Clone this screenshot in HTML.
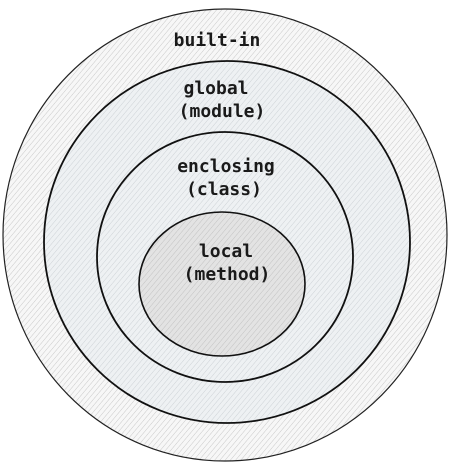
<!DOCTYPE html>
<html><head><style>
html,body{margin:0;padding:0;background:#fff;width:451px;height:472px;overflow:hidden}
</style></head><body>
<svg width="451" height="472" xmlns="http://www.w3.org/2000/svg">
<defs>
<pattern id="h1" width="4" height="4" patternUnits="userSpaceOnUse" patternTransform="rotate(40)">
<rect width="4" height="4" fill="#f7f7f7"/><line x1="0" y1="0" x2="0" y2="4" stroke="#c9c9c9" stroke-width="1"/></pattern>
<pattern id="h2" width="4" height="4" patternUnits="userSpaceOnUse" patternTransform="rotate(40)">
<rect width="4" height="4" fill="#eef1f3"/><line x1="0" y1="0" x2="0" y2="4" stroke="#cdd2d6" stroke-width="1"/></pattern>
<pattern id="h3" width="4" height="4" patternUnits="userSpaceOnUse" patternTransform="rotate(40)">
<rect width="4" height="4" fill="#e3e3e3"/><line x1="0" y1="0" x2="0" y2="4" stroke="#c2c2c2" stroke-width="1"/></pattern>
</defs>
<ellipse cx="225" cy="235" rx="222" ry="226" fill="url(#h1)" stroke="#222" stroke-width="1.2"/>
<ellipse cx="227" cy="242" rx="183" ry="181" fill="url(#h2)" stroke="#111" stroke-width="1.8"/>
<ellipse cx="225" cy="257" rx="128" ry="125" fill="url(#h2)" stroke="#111" stroke-width="1.8"/>
<ellipse cx="222" cy="284" rx="83" ry="72" fill="url(#h3)" stroke="#111" stroke-width="1.6"/>
<g font-family="DejaVu Sans Mono, monospace" font-weight="bold" font-size="18" fill="#1a1a1a" text-anchor="middle">
<text x="217" y="46">built-in</text>
<text x="216" y="94">global</text>
<text x="222" y="117">(module)</text>
<text x="226" y="172">enclosing</text>
<text x="224" y="195">(class)</text>
<text x="226" y="257">local</text>
<text x="227" y="280">(method)</text>
</g>
</svg>
</body></html>
